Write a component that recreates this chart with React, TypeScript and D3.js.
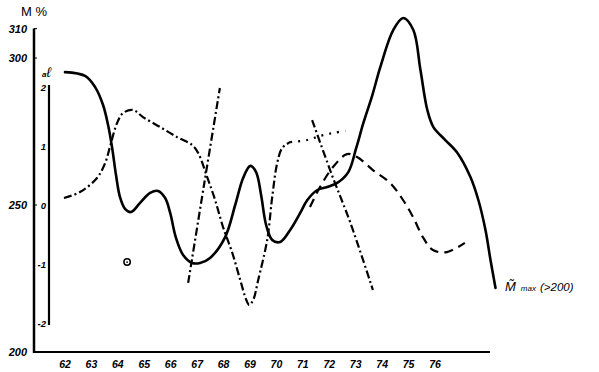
import React from "react";
import * as d3 from "d3";

// ---- data (year, M %) ----
const yearTicks = [62, 63, 64, 65, 66, 67, 68, 69, 70, 71, 72, 73, 74, 75, 76];
const mTicks = [200, 250, 300, 310];
const alTicks = [-2, -1, 0, 1, 2];

const solidYears = [62.0, 62.76, 63.14, 63.44, 63.63, 63.78, 63.93, 64.08, 64.27, 64.5, 64.84, 65.22, 65.52, 65.79, 65.98, 66.2, 66.47, 66.81, 67.11, 67.49, 68.06, 68.44, 68.74, 69.01, 69.23, 69.42, 69.61, 69.84, 70.14, 70.52, 70.9, 71.17, 71.55, 71.92, 72.3, 72.72, 73.02, 73.29, 73.63, 73.93, 74.42, 74.8, 75.18, 75.45, 75.71, 75.94, 76.39, 76.85, 77.34, 77.64, 77.91, 78.1, 78.29];
const solidValues = [295.2, 293.9, 290.1, 284.0, 277.2, 269.7, 260.2, 252.7, 248.7, 247.6, 250.7, 254.1, 254.8, 252.4, 247.3, 238.8, 233.0, 230.3, 230.3, 232.0, 239.1, 250.0, 259.2, 263.3, 261.2, 253.4, 243.2, 238.1, 237.4, 241.5, 247.3, 251.7, 255.1, 256.1, 257.5, 261.2, 269.4, 277.9, 287.4, 296.9, 309.5, 313.6, 309.5, 295.9, 282.3, 276.5, 272.1, 267.7, 259.5, 251.7, 241.5, 231.3, 221.8];

const dashDotYears = [61.96, 62.57, 63.21, 63.52, 63.7, 63.97, 64.2, 64.58, 64.95, 65.6, 66.24, 66.81, 67.04, 67.38, 67.68, 67.98, 68.33, 68.63, 68.86, 68.97, 69.12, 69.31, 69.65, 69.84, 70.03, 70.22, 70.52];
const dashDotValues = [252.4, 254.4, 259.2, 264.3, 269.7, 277.9, 281.3, 282.3, 279.9, 276.5, 273.1, 270.4, 267.7, 259.5, 251.7, 242.5, 233.7, 224.5, 217.7, 216.0, 217.7, 224.5, 238.1, 252.7, 264.3, 269.4, 271.4];

const dottedYears = [70.52, 71.17, 71.66, 72.15, 72.61];
const dottedValues = [271.4, 272.1, 273.5, 274.5, 275.2];

const steepAYears = [66.66, 67.26, 67.86];
const steepAValues = [223.5, 256.8, 289.8];

const steepBYears = [71.35, 72.1, 72.8, 73.65];
const steepBValues = [278.9, 260.2, 243.9, 221.1];

const dashedYears = [71.27, 71.65, 72.14, 72.67, 73.05, 73.65, 74.3, 74.79, 75.17, 75.54, 75.92, 76.45, 77.13];
const dashedValues = [249.3, 256.1, 262.9, 267.3, 266.3, 261.9, 257.5, 251.7, 245.9, 239.1, 234.7, 234.0, 237.1];

const markerYear = 64.35;
const markerValue = 230.6;

const W = 599;
const H = 372;

export default function App() {
  const x = d3.scaleLinear().domain([62, 76]).range([65, 435]);
  const y = d3.scaleLinear().domain([200, 300]).range([352, 58]);
  const yAl = d3.scaleLinear().domain([-2, 2]).range([323, 87]);

  const line = d3
    .line<[number, number]>()
    .x((d) => x(d[0]))
    .y((d) => y(d[1]))
    .curve(d3.curveCatmullRom.alpha(0.5));

  const zip = (a: number[], b: number[]) => a.map((v, i) => [v, b[i]] as [number, number]);

  const font = "'Liberation Sans', Arial, sans-serif";

  return (
    <svg
      width={W}
      height={H}
      style={{ position: "absolute", left: 0, top: 0, background: "#fff" }}
      fontFamily={font}
    >
      <rect width={W} height={H} fill="#fff" />
      {/* left main axis */}
      <line x1={34} x2={34} y1={y(310)} y2={353} stroke="#000" strokeWidth={2.5} />
      {/* x axis */}
      <line x1={33} x2={490} y1={352} y2={352} stroke="#000" strokeWidth={2} />
      {/* secondary al axis */}
      <line x1={49} x2={49} y1={yAl(2) - 2} y2={yAl(-2) + 2} stroke="#000" strokeWidth={2.2} />

      {/* M % title */}
      <text x={21} y={16} fontSize={13} fill="#000">M %</text>

      {/* main axis tick labels */}
      {mTicks.map((t) => (
        <g key={t}>
          <text
            x={27}
            y={y(t) + 4}
            fontSize={11}
            fontStyle="italic"
            fontWeight="bold"
            textAnchor="end"
            fill="#000"
          >
            {t}
          </text>
          <line x1={34} x2={37} y1={y(t)} y2={y(t)} stroke="#000" strokeWidth={1} />
        </g>
      ))}

      {/* al axis tick labels */}
      {alTicks.map((t) => (
        <text
          key={t}
          x={46}
          y={yAl(t) + 4}
          fontSize={9.5}
          fontStyle="italic"
          fontWeight="bold"
          textAnchor="end"
          fill="#000"
        >
          {t}
        </text>
      ))}
      <text x={42} y={77} fontSize={14} fontStyle="italic" fill="#000">
        <tspan fontSize={8} fontWeight="bold">a</tspan>
        <tspan>ℓ</tspan>
      </text>

      {/* x tick labels */}
      {yearTicks.map((t) => (
        <text
          key={t}
          x={x(t)}
          y={368}
          fontSize={10.5}
          fontStyle="italic"
          fontWeight="bold"
          textAnchor="middle"
          fill="#000"
        >
          {t}
        </text>
      ))}

      {/* curves */}
      <path d={line(zip(solidYears, solidValues)) || ""} fill="none" stroke="#000" strokeWidth={2.6} strokeLinecap="round" />
      <path d={line(zip(dashDotYears, dashDotValues)) || ""} fill="none" stroke="#000" strokeWidth={2.2} strokeDasharray="8 3 2 3" />
      <path d={line(zip(dottedYears, dottedValues)) || ""} fill="none" stroke="#000" strokeWidth={2.2} strokeDasharray="2 6" />
      <path d={line(zip(steepAYears, steepAValues)) || ""} fill="none" stroke="#000" strokeWidth={2.2} strokeDasharray="8 3 2 3" />
      <path d={line(zip(steepBYears, steepBValues)) || ""} fill="none" stroke="#000" strokeWidth={2.2} strokeDasharray="8 3 2 3" />
      <path d={line(zip(dashedYears, dashedValues)) || ""} fill="none" stroke="#000" strokeWidth={2.2} strokeDasharray="9 6" />

      {/* marker */}
      <circle cx={x(markerYear)} cy={y(markerValue)} r={3.2} fill="none" stroke="#000" strokeWidth={1.5} />
      <circle cx={x(markerYear)} cy={y(markerValue)} r={0.9} fill="#000" />

      {/* curve label */}
      <text x={505} y={291} fontSize={13} fontStyle="italic" fill="#000">
        <tspan>M̃</tspan>
        <tspan fontSize={8} dx={5}>max</tspan>
        <tspan fontSize={11.5} dx={4}>(&gt;200)</tspan>
      </text>
    </svg>
  );
}
